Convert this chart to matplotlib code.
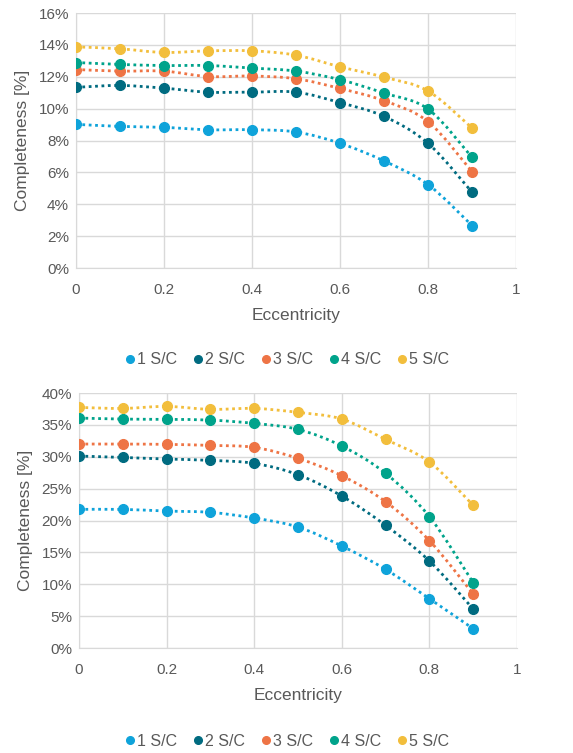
import numpy as np
import matplotlib.pyplot as plt
from matplotlib.path import Path
from matplotlib.patches import PathPatch
from matplotlib.lines import Line2D

plt.rcParams['font.family'] = ['Liberation Sans', 'DejaVu Sans']

ecc = [0, 0.1, 0.2, 0.3, 0.4, 0.5, 0.6, 0.7, 0.8, 0.9]
labels = ['1 S/C', '2 S/C', '3 S/C', '4 S/C', '5 S/C']
colors = ['#0FA3DA', '#006B80', '#EE7445', '#00A38B', '#F2BE3C']

# top chart values [%]
top_1 = [9.02, 8.89, 8.83, 8.68, 8.68, 8.54, 7.83, 6.72, 5.24, 2.67]
top_2 = [11.34, 11.46, 11.29, 11.04, 11.04, 11.04, 10.38, 9.52, 7.83, 4.76]
top_3 = [12.46, 12.36, 12.36, 12.02, 12.05, 11.88, 11.27, 10.50, 9.19, 6.05]
top_4 = [12.90, 12.78, 12.71, 12.71, 12.55, 12.36, 11.82, 10.98, 9.98, 6.95]
top_5 = [13.88, 13.76, 13.53, 13.63, 13.63, 13.36, 12.63, 11.98, 11.11, 8.79]

# bottom chart values [%]
bot_1 = [21.75, 21.75, 21.49, 21.28, 20.39, 18.98, 16.0, 12.34, 7.74, 3.03]
bot_2 = [30.12, 29.9, 29.65, 29.44, 28.97, 27.19, 23.84, 19.24, 13.65, 6.12]
bot_3 = [32.0, 32.0, 31.95, 31.79, 31.48, 29.75, 27.03, 22.95, 16.84, 8.47]
bot_4 = [36.08, 35.92, 35.87, 35.76, 35.24, 34.30, 31.69, 27.40, 20.60, 10.25]
bot_5 = [37.75, 37.59, 37.91, 37.44, 37.59, 36.97, 35.92, 32.73, 29.18, 22.38]

top_series = [top_1, top_2, top_3, top_4, top_5]
bot_series = [bot_1, bot_2, bot_3, bot_4, bot_5]

grey = '#595959'


def smooth_path(x, y):
    # excel-like smoothed line: catmull-rom segments as cubic beziers
    x = np.asarray(x, float)
    y = np.asarray(y, float)
    pts = np.column_stack([x, y])
    n = len(pts)
    verts = [pts[0]]
    codes = [Path.MOVETO]
    for i in range(n - 1):
        p0 = pts[max(i - 1, 0)]
        p1 = pts[i]
        p2 = pts[i + 1]
        p3 = pts[min(i + 2, n - 1)]
        c1 = p1 + (p2 - p0) / 6
        c2 = p2 - (p3 - p1) / 6
        verts += [c1, c2, p2]
        codes += [Path.CURVE4] * 3
    return Path(verts, codes)


def draw(ax, series, ymax, ystep):
    for vals, c in zip(series, colors):
        ax.add_patch(PathPatch(smooth_path(ecc, vals), fill=False, edgecolor=c,
                               lw=2, linestyle=(0, (1, 1.3)), zorder=2))
        ax.plot(ecc, vals, 'o', color=c, ms=7, zorder=3)
    ax.set_xlim(0, 1)
    ax.set_ylim(0, ymax)
    ax.set_xticks(np.arange(0, 1.01, 0.2))
    ax.set_xticklabels(['0', '0.2', '0.4', '0.6', '0.8', '1'])
    yt = np.arange(0, ymax + 0.01, ystep)
    ax.set_yticks(yt)
    ax.set_yticklabels(['%d%%' % v for v in yt])
    ax.grid(True, color='#D9D9D9', lw=1, zorder=0)
    ax.set_axisbelow(True)
    for s in ['top', 'right']:
        ax.spines[s].set_visible(False)
    for s in ['left', 'bottom']:
        ax.spines[s].set_color('#D9D9D9')
    ax.tick_params(length=0, colors=grey, labelsize=11, pad=11)
    ax.tick_params(axis='y', pad=5)
    ax.set_xlabel('Eccentricity', color=grey, fontsize=12.5, labelpad=8)
    ax.set_ylabel('Completeness [%]', color=grey, fontsize=12.5, labelpad=6)


fig = plt.figure(figsize=(5.73, 7.53), dpi=100)
ax1 = fig.add_axes([0.1326, 0.644, 0.768, 0.3386])
ax2 = fig.add_axes([0.1379, 0.1394, 0.7644, 0.3386])
draw(ax1, top_series, 16, 2)
draw(ax2, bot_series, 40, 5)

handles = [Line2D([], [], marker='o', ls='none', color=c, ms=5.5) for c in colors]
for yy in [1 - 360 / 753, 1 - 741 / 753]:
    fig.legend(handles, labels, loc='center', bbox_to_anchor=(0.5, yy), ncol=5,
               frameon=False, fontsize=11.5, handletextpad=0.05, columnspacing=0.9,
               handlelength=0.8, labelcolor=grey)

fig.savefig('out.png', dpi=100)
